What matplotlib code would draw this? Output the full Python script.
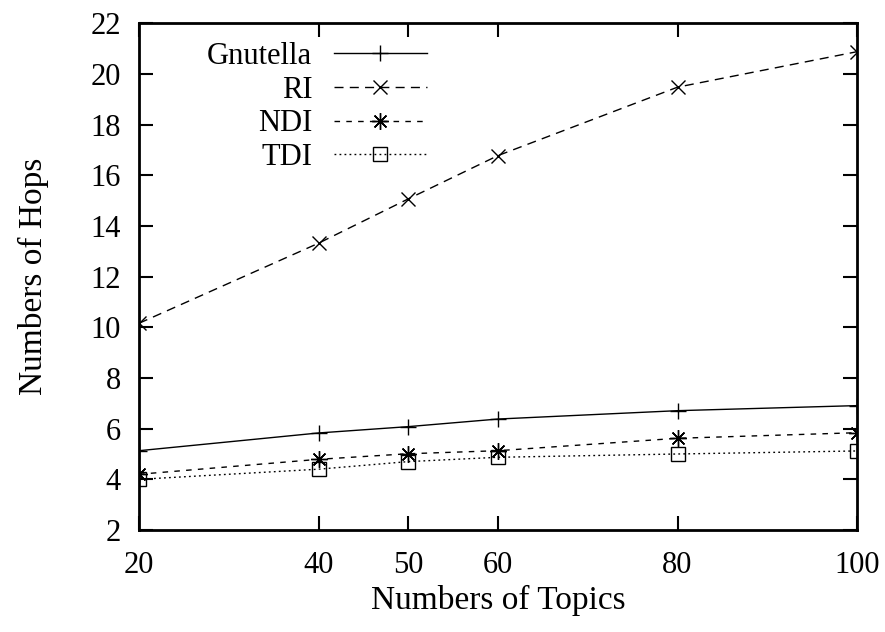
import matplotlib
matplotlib.use('Agg')
import matplotlib.pyplot as plt

plt.rcParams['font.family'] = ['Liberation Serif', 'DejaVu Serif']

# data
topics = [20, 40, 50, 60, 80, 100]
gnutella = [5.13, 5.83, 6.08, 6.38, 6.71, 6.91]
ri = [10.16, 13.32, 15.07, 16.78, 19.48, 20.88]
ndi = [4.2, 4.79, 5.01, 5.13, 5.62, 5.84]
tdi = [4.0, 4.4, 4.7, 4.87, 5.0, 5.12]

x_ticks = [20, 40, 50, 60, 80, 100]
y_ticks = list(range(2, 23, 2))

fig = plt.figure(figsize=(8.85, 6.32), dpi=100)
ax = fig.add_axes([0.1571, 0.1614, 0.8113, 0.8017])

# gnuplot-like asterisk: + and x overlaid
asterisk = (8, 2, 0)

lw = 1.0
ax.plot(topics, gnutella, color='black', lw=lw, ls='-', marker='+', ms=12, mew=1.0, label='Gnutella')
ax.plot(topics, ri, color='black', lw=lw, ls=(0, (6.5, 4.5)), marker='x', ms=10, mew=1.0, label='RI')
ax.plot(topics, ndi, color='black', lw=lw, ls=(0, (4, 4.5)), marker=asterisk, ms=12, mew=1.0, label='NDI')
ax.plot(topics, tdi, color='black', lw=lw, ls=(0, (1.3, 2.3)), marker='s', ms=10, mew=1.0,
        mfc='none', label='TDI')

ax.set_xlim(20, 100)
ax.set_ylim(2, 22)
ax.set_xticks(x_ticks)
ax.set_yticks(y_ticks)
ax.tick_params(direction='in', length=10, width=1.5, top=True, right=True,
               labelsize=22)
ax.tick_params(axis='x', pad=15)
ax.tick_params(axis='y', pad=13)
for s in ax.spines.values():
    s.set_linewidth(2)

ax.set_xlabel('Numbers of Topics', fontsize=24, labelpad=4)
ax.set_ylabel('Numbers of Hops', fontsize=24, labelpad=30)

ax.legend(loc='upper right', bbox_to_anchor=(0.401, 0.963), frameon=False, markerfirst=False,
          fontsize=22, handlelength=3.05, handletextpad=0.7, labelspacing=0.15,
          borderaxespad=0, borderpad=0)

fig.savefig('out.png', dpi=100)
